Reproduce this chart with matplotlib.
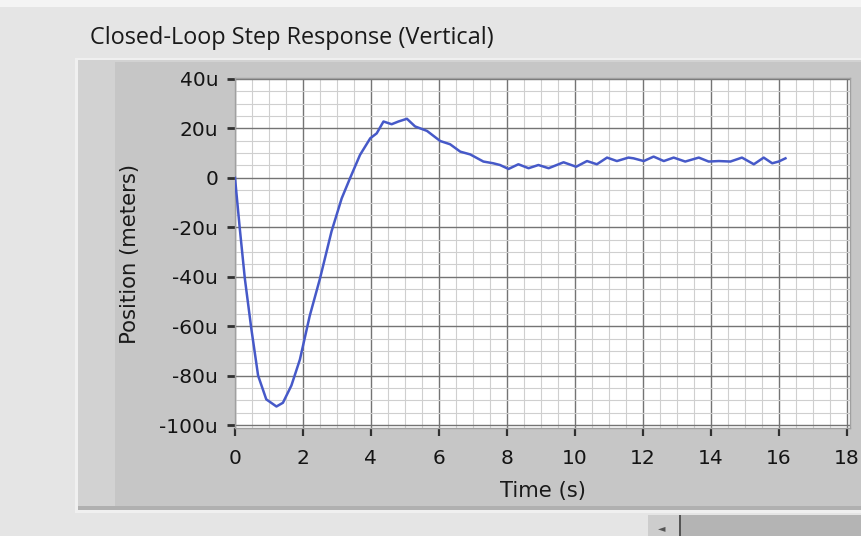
import matplotlib
matplotlib.use("Agg")
import matplotlib.pyplot as plt
from matplotlib.patches import Rectangle
from matplotlib.ticker import MultipleLocator, FuncFormatter

# ---- data (time in s, position in micrometers "u") ----
time_s = [0.0, 0.14, 0.29, 0.48, 0.68, 0.92, 1.22, 1.41, 1.66, 1.91, 2.2, 2.5,
          2.84, 3.14, 3.39, 3.68, 3.98, 4.17, 4.37, 4.61, 4.81, 5.06, 5.3, 5.65,
          6.04, 6.33, 6.63, 6.92, 7.31, 7.6, 7.8, 8.05, 8.34, 8.64, 8.93, 9.23,
          9.67, 10.04, 10.36, 10.65, 10.95, 11.24, 11.58, 11.73, 12.03, 12.32,
          12.62, 12.91, 13.25, 13.65, 13.94, 14.24, 14.58, 14.92, 15.27, 15.56,
          15.81, 16.0, 16.2]
position_u = [0.0, -20.4, -40.8, -61.0, -80.0, -89.6, -92.5, -91.0, -84.0, -73.5,
              -55.8, -40.8, -21.7, -8.3, 0.0, 9.3, 16.0, 18.0, 22.8, 21.7, 22.8,
              23.9, 20.8, 19.0, 14.9, 13.6, 10.6, 9.5, 6.6, 5.9, 5.2, 3.6, 5.5,
              3.9, 5.2, 3.9, 6.3, 4.5, 6.8, 5.5, 8.2, 6.8, 8.2, 7.9, 6.8, 8.6,
              6.8, 8.2, 6.6, 8.2, 6.6, 6.8, 6.6, 8.2, 5.5, 8.2, 5.9, 6.6, 7.9]
x_ticks = [0, 2, 4, 6, 8, 10, 12, 14, 16, 18]
y_ticks = [40, 20, 0, -20, -40, -60, -80, -100]

title = "Closed-Loop Step Response (Vertical)"
x_label = "Time (s)"
y_label = "Position (meters)"

W, H = 862, 536
fig = plt.figure(figsize=(W / 100, H / 100), dpi=100)
fig.patch.set_facecolor("#e5e5e5")
plt.rcParams["font.family"] = ["DejaVu Sans"]


def px_rect(x0, y0, x1, y1, **kw):
    r = Rectangle((x0 / W, 1 - y1 / H), (x1 - x0) / W, (y1 - y0) / H,
                  transform=fig.transFigure, zorder=-10, **kw)
    fig.patches.append(r)


# top white strip
px_rect(0, 0, W, 7, facecolor="#f4f4f4", edgecolor="none")
# panel
px_rect(75, 58, W + 5, 513, facecolor="#f0f0f0", edgecolor="none")
px_rect(78, 60, W + 5, 510, facecolor="#d2d2d2", edgecolor="none")
px_rect(115, 62, W + 5, 506, facecolor="#c6c6c6", edgecolor="none")
px_rect(78, 506, W + 5, 510, facecolor="#b0b0b0", edgecolor="none")
# scrollbar
px_rect(648, 515, 680, H, facecolor="#cdcdcd", edgecolor="none")
px_rect(680, 515, W, H, facecolor="#b4b4b4", edgecolor="none")
px_rect(679, 515, 681, H, facecolor="#555555", edgecolor="none")
fig.text(662 / W, 1 - 528 / H, "\u25c4", fontsize=7, color="#555555",
         ha="center", va="center")

fig.text(90 / W, 1 - 38 / H, title, fontsize=16.9, color="#1a1a1a",
         ha="left", va="center", family=["Open Sans", "DejaVu Sans"])

ax = fig.add_axes([235 / W, 1 - 428 / H, (850 - 235) / W, (428 - 78) / H])
ax.set_zorder(5)
ax.set_facecolor("white")
ax.plot(time_s, position_u, color="#4659c8", lw=1.8, zorder=5)

ax.set_xlim(0, 18.1)
ax.set_ylim(-101.2, 40.4)
ax.set_xticks(x_ticks)
ax.set_yticks(y_ticks)
ax.xaxis.set_minor_locator(MultipleLocator(0.5))
ax.yaxis.set_minor_locator(MultipleLocator(5))
ax.yaxis.set_major_formatter(FuncFormatter(lambda v, p: "0" if v == 0 else f"{int(v)}u"))
ax.xaxis.set_major_formatter(FuncFormatter(lambda v, p: f"{int(v)}"))

ax.grid(which="major", color="#747474", lw=1.0, zorder=1)
ax.grid(which="minor", color="#cfcfcf", lw=0.8, zorder=0)
ax.set_axisbelow(True)

ax.tick_params(axis="y", which="major", length=5.8, width=2.0, color="#303030",
               labelsize=14.5, labelcolor="#141414", pad=6.3)
ax.tick_params(axis="x", which="major", length=5.8, width=1.6, color="#303030",
               labelsize=14.5, labelcolor="#141414", pad=9.0)
ax.tick_params(which="minor", length=0)
for s in ax.spines.values():
    s.set_color("#a0a0a0")
    s.set_linewidth(1.0)

ax.set_xlabel(x_label, fontsize=15.2, color="#1a1a1a")
ax.set_ylabel(y_label, fontsize=15.2, color="#1a1a1a")
ax.xaxis.set_label_coords((543 - 235) / 615, (428 - 491) / 350)
ax.xaxis.label.set_verticalalignment("center")
ax.yaxis.set_label_coords((130 - 235) / 615, (428 - 254) / 350)
ax.yaxis.label.set_verticalalignment("center")

fig.savefig("out.png", dpi=100, facecolor=fig.get_facecolor())
